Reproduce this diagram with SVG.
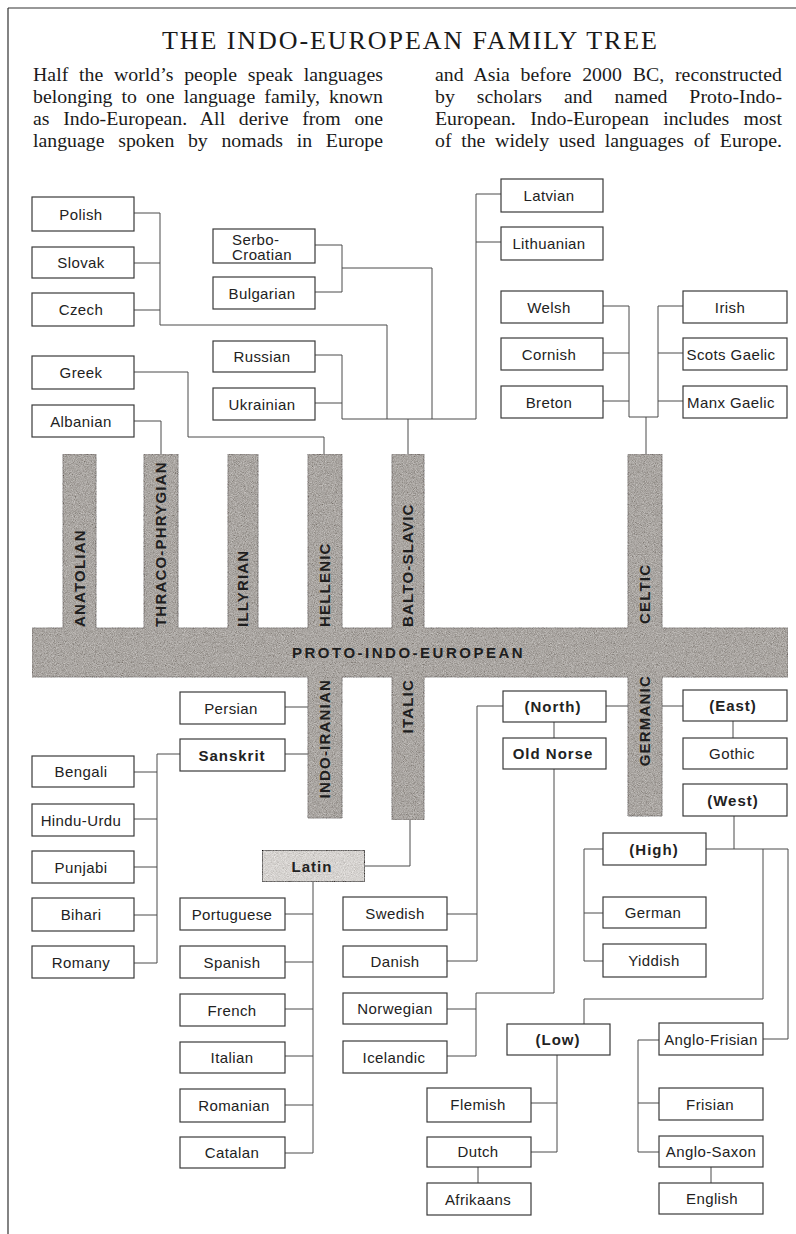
<svg xmlns="http://www.w3.org/2000/svg" width="796" height="1234" viewBox="0 0 796 1234">
<defs>
<style>
.frame{fill:none;stroke:#333;stroke-width:1.2}
.title{font-family:"Liberation Serif","Times New Roman",serif;font-size:26px;fill:#1a1a1a}
.body{font-family:"Liberation Serif","Times New Roman",serif;font-size:19.8px;fill:#1a1a1a}
.box{fill:#fff;stroke:#3a3a3a;stroke-width:1.2}
.grey{fill:#d6d3d0}
.lbl{font-family:"Liberation Sans",Arial,sans-serif;font-size:15px;fill:#222;text-anchor:middle;letter-spacing:0.4px}
.b{font-weight:bold;letter-spacing:1px}
.conn{fill:none;stroke:#4a4a4a;stroke-width:1}
.bar{fill:#aaa6a2;stroke:#7e7a77;stroke-width:0.8}
.bt{font-family:"Liberation Sans",Arial,sans-serif;font-size:15px;font-weight:bold;fill:#1e1e1e;letter-spacing:1.2px}
</style>
<filter id="grain" x="0" y="0" width="100%" height="100%">
<feTurbulence type="fractalNoise" baseFrequency="1.1" numOctaves="2" seed="4" result="n"/>
<feColorMatrix in="n" type="matrix" values="0.33 0.33 0.33 0 0 0.33 0.33 0.33 0 0 0.33 0.33 0.33 0 0 0 0 0 0 1" result="g"/>
<feComposite in="SourceGraphic" in2="g" operator="arithmetic" k1="0" k2="1" k3="0.8" k4="-0.4" result="m"/>
<feComposite in="m" in2="SourceGraphic" operator="in"/>
</filter>
</defs>

<g id="frame">
<path class="frame" d="M8,8 H796 M8,8 V1234"/>
</g>

<g id="header">
<text class="title" x="162" y="49" textLength="495" lengthAdjust="spacing">THE INDO-EUROPEAN FAMILY TREE</text>
<text class="body" x="33" y="81" textLength="350" lengthAdjust="spacing" word-spacing="5.7">Half the world’s people speak languages</text>
<text class="body" x="33" y="103" textLength="350" lengthAdjust="spacing" word-spacing="4">belonging to one language family, known</text>
<text class="body" x="33" y="125" textLength="350" lengthAdjust="spacing" word-spacing="8.7">as Indo-European. All derive from one</text>
<text class="body" x="33" y="147" textLength="350" lengthAdjust="spacing" word-spacing="8.7">language spoken by nomads in Europe</text>
<text class="body" x="435" y="81" textLength="347" lengthAdjust="spacing" word-spacing="5.8">and Asia before 2000 BC, reconstructed</text>
<text class="body" x="435" y="103" textLength="347" lengthAdjust="spacing" word-spacing="17">by scholars and named Proto-Indo-</text>
<text class="body" x="435" y="125" textLength="347" lengthAdjust="spacing" word-spacing="9.4">European. Indo-European includes most</text>
<text class="body" x="435" y="147" textLength="347" lengthAdjust="spacing" word-spacing="4.7">of the widely used languages of Europe.</text>
</g>

<g id="proto-indo-european">
<path class="bar" filter="url(#grain)" d="M32,628 H63 V454 H96 V628 H144 V454 H178 V628 H228 V454 H258 V628 H308 V454 H342 V628 H392 V454 H424 V628 H628 V454 H662 V628 H788 V677 H662 V816 H628 V677 H424 V820 H392 V677 H342 V818 H308 V677 H32 Z"/>
<text class="bt" x="292" y="658" style="letter-spacing:2.5px">PROTO-INDO-EUROPEAN</text>
<text class="bt" transform="translate(85,627) rotate(-90)">ANATOLIAN</text>
<text class="bt" transform="translate(166,627) rotate(-90)">THRACO-PHRYGIAN</text>
<text class="bt" transform="translate(248,627) rotate(-90)">ILLYRIAN</text>
<text class="bt" transform="translate(330,627) rotate(-90)">HELLENIC</text>
<text class="bt" transform="translate(413,627) rotate(-90)">BALTO-SLAVIC</text>
<text class="bt" transform="translate(650,624) rotate(-90)">CELTIC</text>
<text class="bt" text-anchor="end" transform="translate(330,679) rotate(-90)">INDO-IRANIAN</text>
<text class="bt" text-anchor="end" transform="translate(413,679) rotate(-90)">ITALIC</text>
<text class="bt" text-anchor="end" transform="translate(650,675) rotate(-90)">GERMANIC</text>
</g>

<g id="connectors">
<path class="conn" d="M134,213 H160 V325 H387 V419 M134,263 H160 M134,310 H160"/>
<path class="conn" d="M315,245 H342 V292 H315 M342,268 H432 V419"/>
<path class="conn" d="M315,355 H342 V419 H476 M315,403 H342"/>
<path class="conn" d="M501,194 H476 V419 M501,242 H476"/>
<path class="conn" d="M408,419 V454"/>
<path class="conn" d="M134,372 H188 V437 H324 V454"/>
<path class="conn" d="M134,421 H161 V454"/>
<path class="conn" d="M603,306 H629 V417 H658 V306 H683 M603,353 H629 M603,401 H629 M658,353 H683 M658,401 H683 M646,417 V454"/>
<path class="conn" d="M285,707 H308 M285,754 H308 M180,754 H157 V963 H134 M134,772 H157 M134,819 H157 M134,867 H157 M134,915 H157"/>
<path class="conn" d="M410,820 V866 H365 M313,882 V1153 H285 M285,914 H313 M285,962 H313 M285,1009 H313 M285,1056 H313 M285,1105 H313"/>
<path class="conn" d="M606,706 H628 M662,706 H683 M733,721 V738"/>
<path class="conn" d="M503,706 H477 V961 H447 M447,914 H477 M554,722 V738 M554,769 V993 H476 V1056 H447 M447,1009 H476"/>
<path class="conn" d="M734,816 V849 M706,849 H788 V1039 H763 M763,849 V999 H584 V1024 M603,849 H584 V961 H603 M584,913 H603"/>
<path class="conn" d="M557,1055 V1152 H531 M531,1103 H557 M478,1167 V1183"/>
<path class="conn" d="M659,1040 H638 V1152 H659 M638,1103 H659 M711,1167 V1183"/>
</g>

<g id="polish"><rect class="box" x="32" y="197" width="102" height="34"/><text class="lbl" x="81" y="220">Polish</text></g>
<g id="slovak"><rect class="box" x="32" y="247" width="102" height="31"/><text class="lbl" x="81" y="268">Slovak</text></g>
<g id="czech"><rect class="box" x="32" y="293" width="102" height="33"/><text class="lbl" x="81" y="315">Czech</text></g>
<g id="greek"><rect class="box" x="32" y="356" width="102" height="33"/><text class="lbl" x="81" y="378">Greek</text></g>
<g id="albanian"><rect class="box" x="32" y="405" width="102" height="32"/><text class="lbl" x="81" y="427">Albanian</text></g>

<g id="serbo-croatian"><rect class="box" x="213" y="229" width="102" height="34"/><text class="lbl" x="232" y="245" style="text-anchor:start">Serbo-</text><text class="lbl" x="232" y="260" style="text-anchor:start">Croatian</text></g>
<g id="bulgarian"><rect class="box" x="213" y="277" width="102" height="32"/><text class="lbl" x="262" y="299">Bulgarian</text></g>
<g id="russian"><rect class="box" x="213" y="341" width="102" height="31"/><text class="lbl" x="262" y="362">Russian</text></g>
<g id="ukrainian"><rect class="box" x="213" y="388" width="102" height="32"/><text class="lbl" x="262" y="410">Ukrainian</text></g>

<g id="latvian"><rect class="box" x="501" y="179" width="102" height="33"/><text class="lbl" x="549" y="201">Latvian</text></g>
<g id="lithuanian"><rect class="box" x="501" y="227" width="102" height="33"/><text class="lbl" x="549" y="249">Lithuanian</text></g>
<g id="welsh"><rect class="box" x="501" y="291" width="102" height="32"/><text class="lbl" x="549" y="313">Welsh</text></g>
<g id="cornish"><rect class="box" x="501" y="338" width="102" height="32"/><text class="lbl" x="549" y="360">Cornish</text></g>
<g id="breton"><rect class="box" x="501" y="386" width="102" height="32"/><text class="lbl" x="549" y="408">Breton</text></g>
<g id="irish"><rect class="box" x="683" y="291" width="104" height="32"/><text class="lbl" x="730" y="313">Irish</text></g>
<g id="scots-gaelic"><rect class="box" x="683" y="338" width="104" height="32"/><text class="lbl" x="731" y="360">Scots Gaelic</text></g>
<g id="manx-gaelic"><rect class="box" x="683" y="386" width="104" height="32"/><text class="lbl" x="731" y="408">Manx Gaelic</text></g>

<g id="persian"><rect class="box" x="180" y="692" width="105" height="32"/><text class="lbl" x="231" y="714">Persian</text></g>
<g id="sanskrit"><rect class="box" x="180" y="739" width="105" height="32"/><text class="lbl b" x="232" y="761">Sanskrit</text></g>
<g id="bengali"><rect class="box" x="32" y="756" width="102" height="31"/><text class="lbl" x="81" y="777">Bengali</text></g>
<g id="hindu-urdu"><rect class="box" x="32" y="804" width="102" height="32"/><text class="lbl" x="81" y="826">Hindu-Urdu</text></g>
<g id="punjabi"><rect class="box" x="32" y="851" width="102" height="32"/><text class="lbl" x="81" y="873">Punjabi</text></g>
<g id="bihari"><rect class="box" x="32" y="898" width="102" height="33"/><text class="lbl" x="81" y="920">Bihari</text></g>
<g id="romany"><rect class="box" x="32" y="946" width="102" height="32"/><text class="lbl" x="81" y="968">Romany</text></g>

<g id="latin"><rect class="box grey" filter="url(#grain)" x="262" y="850" width="103" height="32"/><text class="lbl b" x="312" y="872">Latin</text></g>
<g id="portuguese"><rect class="box" x="180" y="898" width="105" height="32"/><text class="lbl" x="232" y="920">Portuguese</text></g>
<g id="spanish"><rect class="box" x="180" y="946" width="105" height="32"/><text class="lbl" x="232" y="968">Spanish</text></g>
<g id="french"><rect class="box" x="180" y="994" width="105" height="32"/><text class="lbl" x="232" y="1016">French</text></g>
<g id="italian"><rect class="box" x="180" y="1042" width="105" height="31"/><text class="lbl" x="232" y="1063">Italian</text></g>
<g id="romanian"><rect class="box" x="180" y="1089" width="105" height="33"/><text class="lbl" x="234" y="1111">Romanian</text></g>
<g id="catalan"><rect class="box" x="180" y="1137" width="105" height="31"/><text class="lbl" x="232" y="1158">Catalan</text></g>

<g id="north"><rect class="box" x="503" y="691" width="103" height="31"/><text class="lbl b" x="553" y="712">(North)</text></g>
<g id="old-norse"><rect class="box" x="503" y="738" width="103" height="31"/><text class="lbl b" x="553" y="759">Old Norse</text></g>
<g id="east"><rect class="box" x="683" y="690" width="104" height="31"/><text class="lbl b" x="733" y="711">(East)</text></g>
<g id="gothic"><rect class="box" x="683" y="738" width="104" height="31"/><text class="lbl" x="732" y="759">Gothic</text></g>
<g id="west"><rect class="box" x="683" y="784" width="104" height="32"/><text class="lbl b" x="733" y="806">(West)</text></g>

<g id="swedish"><rect class="box" x="343" y="897" width="104" height="33"/><text class="lbl" x="395" y="919">Swedish</text></g>
<g id="danish"><rect class="box" x="343" y="946" width="104" height="31"/><text class="lbl" x="395" y="967">Danish</text></g>
<g id="norwegian"><rect class="box" x="343" y="993" width="104" height="31"/><text class="lbl" x="395" y="1014">Norwegian</text></g>
<g id="icelandic"><rect class="box" x="343" y="1041" width="104" height="32"/><text class="lbl" x="394" y="1063">Icelandic</text></g>

<g id="high"><rect class="box" x="603" y="833" width="103" height="32"/><text class="lbl b" x="654" y="855">(High)</text></g>
<g id="german"><rect class="box" x="603" y="897" width="103" height="31"/><text class="lbl" x="653" y="918">German</text></g>
<g id="yiddish"><rect class="box" x="603" y="944" width="103" height="33"/><text class="lbl" x="654" y="966">Yiddish</text></g>

<g id="low"><rect class="box" x="507" y="1024" width="103" height="31"/><text class="lbl b" x="558" y="1045">(Low)</text></g>
<g id="flemish"><rect class="box" x="427" y="1088" width="104" height="34"/><text class="lbl" x="478" y="1110">Flemish</text></g>
<g id="dutch"><rect class="box" x="427" y="1137" width="104" height="30"/><text class="lbl" x="478" y="1157">Dutch</text></g>
<g id="afrikaans"><rect class="box" x="427" y="1183" width="104" height="32"/><text class="lbl" x="478" y="1205">Afrikaans</text></g>

<g id="anglo-frisian"><rect class="box" x="659" y="1023" width="104" height="32"/><text class="lbl" x="711" y="1045">Anglo-Frisian</text></g>
<g id="frisian"><rect class="box" x="659" y="1088" width="104" height="32"/><text class="lbl" x="710" y="1110">Frisian</text></g>
<g id="anglo-saxon"><rect class="box" x="659" y="1136" width="104" height="31"/><text class="lbl" x="711" y="1157">Anglo-Saxon</text></g>
<g id="english"><rect class="box" x="659" y="1183" width="104" height="31"/><text class="lbl" x="712" y="1204">English</text></g>
</svg>
